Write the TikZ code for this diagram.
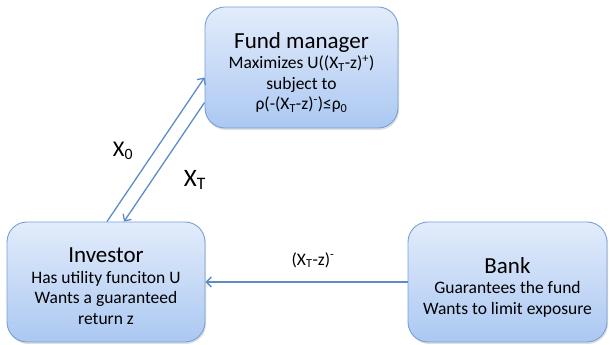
\documentclass[tikz,border=0pt]{standalone}
\usepackage{fontspec}
\setmainfont{Carlito}
\usetikzlibrary{arrows.meta,shadows}
\definecolor{boxtop}{HTML}{E3ECFB}
\definecolor{boxbot}{HTML}{ABC8F2}
\definecolor{edge}{HTML}{74A0D6}
\definecolor{flow}{HTML}{5B8CC8}
\tikzset{
  party/.style={rounded corners=20pt, draw=edge, line width=0.9pt,
    top color=boxtop, bottom color=boxbot,
    drop shadow={opacity=0.25, shadow xshift=1pt, shadow yshift=-2pt}},
  txt/.style={align=center, inner sep=0pt, font=\fontsize{17.5}{20.5}\selectfont},
  flowline/.style={draw=flow, line width=1.3pt, -{Straight Barb[length=5pt,width=10pt]}},
  lab/.style={inner sep=0pt},
}

\begin{document}
\begin{tikzpicture}[x=1pt,y=1pt]
  \useasboundingbox (0,0) rectangle (611,345);

  % the three parties
  \node[party, minimum width=193pt, minimum height=121pt] (fund) at (301.5,277.5) {};
  \node[party, minimum width=198pt, minimum height=120pt] (inv) at (106,63) {};
  \node[party, minimum width=199pt, minimum height=120pt] (bank) at (507.5,63) {};

  \node[txt] (fundtxt) at ([yshift=-5pt]fund.center)
    {{\fontsize{23}{25}\selectfont Fund manager}\\[0pt]
     Maximizes U((X\textsubscript{T}-z)\textsuperscript{+})\\
     subject to\\
     ρ(-(X\textsubscript{T}-z)\textsuperscript{-})≤ρ\textsubscript{0}};
  \node[txt] (invtxt) at ([yshift=-4pt]inv.center)
    {{\fontsize{23}{25}\selectfont Investor}\\[0pt]
     Has utility funciton U\\
     Wants a guaranteed\\
     return z};
  \node[txt] (banktxt) at ([yshift=-5pt]bank.center)
    {{\fontsize{23}{25}\selectfont Bank}\\[0pt]
     Guarantees the fund\\
     Wants to limit exposure};

  % flows
  \draw[flowline] ([xshift=1pt]inv.north) -- ([yshift=-10pt]fund.west);
  \draw[flowline] ([yshift=-35pt]fund.west) -- ([xshift=18pt]inv.north);
  \draw[flowline] (bank.west) -- (inv.east);

  \node[lab, font=\fontsize{22.5}{22.5}\selectfont] (x0) at (123,194) {X\textsubscript{0}};
  \node[lab, font=\fontsize{25}{25}\selectfont] (xT) at (195,165) {X\textsubscript{T}};
  \node[lab, font=\fontsize{17.5}{17.5}\selectfont] (loss) at (313,85) {(X\textsubscript{T}-z)\textsuperscript{-}};
\end{tikzpicture}
\end{document}
